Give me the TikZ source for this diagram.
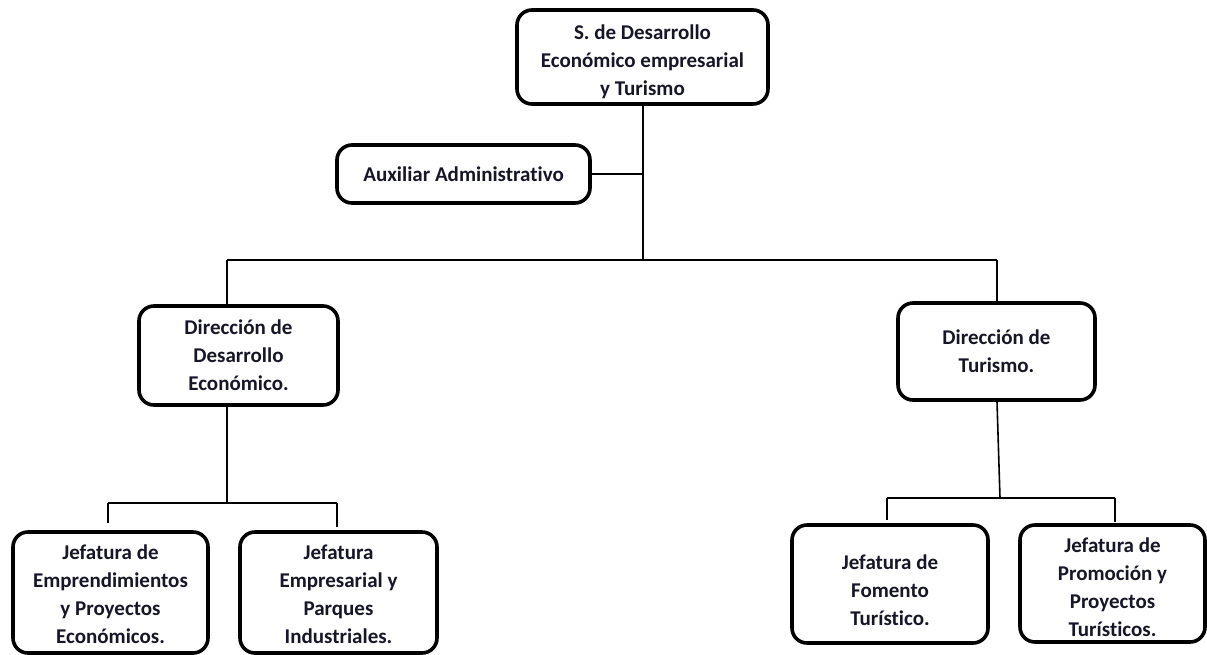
\documentclass[tikz,border=0pt]{standalone}
\usepackage{fontspec}
\setmainfont{Carlito}[Ligatures={NoCommon}]
\begin{document}
\definecolor{ink}{RGB}{22,22,40}
% strut that lowers a node's text block a little
\newcommand{\lowerby}[1]{\rule{0pt}{#1}}
\begin{tikzpicture}[x=1pt,y=-1pt,
  unit/.style={draw=black, line width=3.6pt, rounded corners=15pt, fill=white,
    align=center, inner sep=0pt, text=ink,
    font={\bfseries\fontsize{21}{28}\selectfont}},
  conn/.style={draw=black, line width=2.2pt},
  bus/.style={draw=black, line width=2.6pt}]
\useasboundingbox (0,0) rectangle (1207,654);

% units
\node[unit, minimum width=251pt, minimum height=94pt] (top) at (642.5,57)
  {\lowerby{25pt}S. de Desarrollo\\Económico empresarial\\y Turismo};
\node[unit, minimum width=253pt, minimum height=58pt] (aux) at (463.5,174)
  {Auxiliar Administrativo};
\node[unit, minimum width=199pt, minimum height=99pt] (dde) at (238.5,355.5)
  {Dirección de\\Desarrollo\\Económico.};
\node[unit, minimum width=197pt, minimum height=97pt] (dt) at (996.5,351.5)
  {Dirección de\\Turismo.};
\node[unit, minimum width=195pt, minimum height=121pt] (j1) at (110.5,592.5)
  {\lowerby{19pt}Jefatura de\\Emprendimientos\\y Proyectos\\Económicos.};
\node[unit, minimum width=197pt, minimum height=121pt] (j2) at (338.5,592.5)
  {\lowerby{19pt}Jefatura\\Empresarial y\\Parques\\Industriales.};
\node[unit, minimum width=196pt, minimum height=118pt] (j3) at (890,584)
  {\lowerby{27pt}Jefatura de\\Fomento\\Turístico.};
\node[unit, minimum width=185pt, minimum height=117pt] (j4) at (1112.5,583.5)
  {\lowerby{23pt}Jefatura de\\Promoción y\\Proyectos\\Turísticos.};

% junction points
\coordinate (j0) at (643,260);
\coordinate (bl) at (227,260);
\coordinate (br) at (997,260);
\coordinate (sl) at (227,503);
\coordinate (sl1) at (108,503);
\coordinate (sl2) at (337,503);
\coordinate (dl1) at (108,523);
\coordinate (dl2) at (337,527);
\coordinate (sr) at (1000,498);
\coordinate (sr1) at (887,498);
\coordinate (sr2) at (1115,498);
\coordinate (dr1) at (887,520);
\coordinate (dr2) at (1115,522);

% upper level
\draw[conn] (top.south -| j0) -- (j0);
\draw[conn] (aux.east) -- (aux.east -| j0);
\draw[bus] (bl) -- (br);
\draw[conn] (bl) -- (bl |- dde.north);
\draw[conn] (br) -- (br |- dt.north);

% economic development branch
\draw[conn] (dde.south -| sl) -- (sl);
\draw[bus] (sl1) -- (sl2);
\draw[conn] (sl1) -- (dl1);
\draw[conn] (sl2) -- (dl2);

% tourism branch
\draw[conn, line width=1.6pt] (dt.south -| br) -- (sr);
\draw[bus] (sr1) -- (sr2);
\draw[conn] (sr1) -- (dr1);
\draw[conn] (sr2) -- (dr2);
\end{tikzpicture}
\end{document}
